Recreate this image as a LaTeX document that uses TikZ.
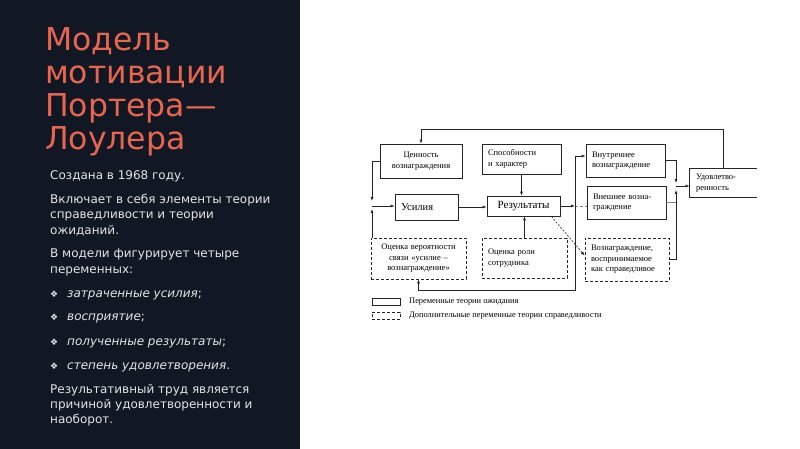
\documentclass[tikz,border=0pt]{standalone}
\usepackage{fontspec}
\setmainfont{DejaVu Sans}
\newfontfamily\serifdiag{Liberation Serif}
\usetikzlibrary{arrows.meta, positioning, calc}
\definecolor{panel}{RGB}{17,24,35}
\definecolor{titlered}{RGB}{232,101,80}
\definecolor{bodytext}{RGB}{228,228,228}
\newcommand{\diamondmark}{\makebox[17pt][l]{\fontsize{9}{9}\selectfont ❖}}

\begin{document}
\begin{tikzpicture}[x=1pt, y=-1pt,
    box/.style={draw=black!85, line width=0.8pt, inner xsep=6pt, inner ysep=1pt,
      font=\serifdiag\fontsize{8.5}{10.5}\selectfont, align=left},
    dbox/.style={box, dash pattern=on 3pt off 2pt},
    arr/.style={draw=black!85, line width=0.6pt, -{Latex[length=4pt,width=3pt]}},
    txt/.style={anchor=base west, inner sep=0pt, text=bodytext, align=left,
      font=\fontsize{12}{15.5}\selectfont}]
    \useasboundingbox (0,0) rectangle (800,449);
    \fill[white] (0,0) rectangle (800,449);
    \fill[panel] (0,0) rectangle (300,449);

    % left column: title and notes (placed at the baseline of the last line)
    \node[anchor=base west, inner sep=0pt, text=titlered, align=left,
      font=\fontsize{31.5}{33.3}\selectfont] (title) at (45,150) {Модель\\мотивации\\Портера—\\Лоулера};
    \node[txt] (p1) at (50,180) {Создана в 1968 году.};
    \node[txt] (p2) at (50,234) {Включает в себя элементы теории\\справедливости и теории\\ожиданий.};
    \node[txt] (p3) at (50,273) {В модели фигурирует четыре\\переменных:};
    \node[txt] (b1) at (50,297) {\diamondmark\textit{затраченные усилия};};
    \node[txt] (b2) at (50,320) {\diamondmark\textit{восприятие};};
    \node[txt] (b3) at (50,345) {\diamondmark\textit{полученные результаты};};
    \node[txt] (b4) at (50,369) {\diamondmark\textit{степень удовлетворения}.};
    \node[txt, font=\fontsize{12}{15}\selectfont] (p4) at (50,423) {Результативный труд является\\причиной удовлетворенности и\\наоборот.};

    % diagram boxes: expectancy variables (solid), equity variables (dashed)
    \node[box, align=center, text width=70pt, minimum height=34pt] (val) at (421,161) {Ценность\\вознаграждения};
    \node[box, text width=67pt, minimum height=30pt] (abil) at (521.5,159) {Способности\\и характер};
    \node[box, text width=67pt, minimum height=33pt] (intr) at (625.5,160.5) {Внутреннее\\вознаграждение};
    \node[box, draw=none, text width=55pt, minimum height=28pt] (sat) at (723.5,183) {Удовлетво-\\ренность};
    \draw[line width=0.8pt, black!85] (sat.north east) -- (sat.north west) -- (sat.south west) -- (sat.south east);
    \node[box, text width=51pt, minimum height=26pt,
      font=\serifdiag\fontsize{10.5}{12}\selectfont] (eff) at (426.5,207) {Усилия};
    \node[box, align=center, text width=61pt, minimum height=20pt,
      font=\serifdiag\fontsize{11}{12}\selectfont] (res) at (523.5,206) {Результаты};
    \node[box, text width=67pt, minimum height=33pt] (extr) at (626.5,202.5) {Внешнее возна-\\граждение};
    \node[dbox, align=center, text width=83pt, minimum height=41pt] (prob) at (418.5,258.5) {Оценка вероятности\\связи «усилие –\\вознаграждение»};
    \node[dbox, text width=73pt, minimum height=40pt] (role) at (524.5,258) {Оценка роли\\сотрудника};
    \node[dbox, text width=72pt, minimum height=43pt] (fair) at (627,259.5) {Вознаграждение,\\воспринимаемое\\как справедливое};

    % junction points
    \coordinate (top) at (0,129);
    \coordinate (bot) at (0,290);
    \coordinate (jL) at (372,206);
    \coordinate (busM) at (575,207);
    \coordinate (jR) at (676,186);

    % feedback loop from satisfaction
    \draw[arr] (sat.north) |- (top -| val.north) -- (val.north);

    % left junction into effort
    \draw[arr] (val.west) -| ([yshift=5pt]jL);
    \draw[arr] (prob.north -| jL) -- ([yshift=-3pt]jL);
    \draw[arr] (jL) -- (jL -| eff.west);

    % into results
    \draw[arr] (eff.east) -- (eff.east -| res.west);
    \draw[arr] (abil.south) -- (abil.south |- res.north);
    \draw[arr] (role.north) -- (role.north |- res.south);

    % results to rewards
    \draw[arr] (res.east) -- (res.east -| busM);
    \draw[gray, line width=0.6pt, dash pattern=on 3pt off 2pt] (res.east -| busM) -- (res.east -| extr.west);
    \draw[arr] (res.east -| busM) |- ([yshift=4.5pt]intr.west);
    \draw[arr] (res.east -| busM) |- (bot -| prob.south) -- (prob.south);
    \draw[arr, dash pattern=on 2pt off 1.5pt] ([xshift=-9pt]res.south east) -- ([yshift=4pt]fair.west);

    % rewards to satisfaction
    \draw[arr] (intr.east) -| ([yshift=3pt]jR);
    \draw[arr] (fair.east) -| ([yshift=-4pt]jR);
    \draw[gray, line width=0.6pt] (extr.east) -- (extr.east -| jR);
    \draw[arr] (jR) -- (jR -| sat.west);

    % legend
    \node[draw=black!85, line width=0.8pt, minimum width=28pt, minimum height=7pt, inner sep=0pt] (legA) at (386,301.5) {};
    \node[draw=black!85, line width=0.8pt, dash pattern=on 3pt off 2pt, minimum width=28pt, minimum height=7pt, inner sep=0pt] (legB) at (386,315.5) {};
    \node[anchor=west, inner sep=0pt, font=\serifdiag\fontsize{8.4}{10}\selectfont] (legAt) at (409,302) {Переменные теории ожидания};
    \node[anchor=west, inner sep=0pt, font=\serifdiag\fontsize{8.4}{10}\selectfont] (legBt) at (409,316) {Дополнительные переменные теории справедливости};
\end{tikzpicture}
\end{document}
